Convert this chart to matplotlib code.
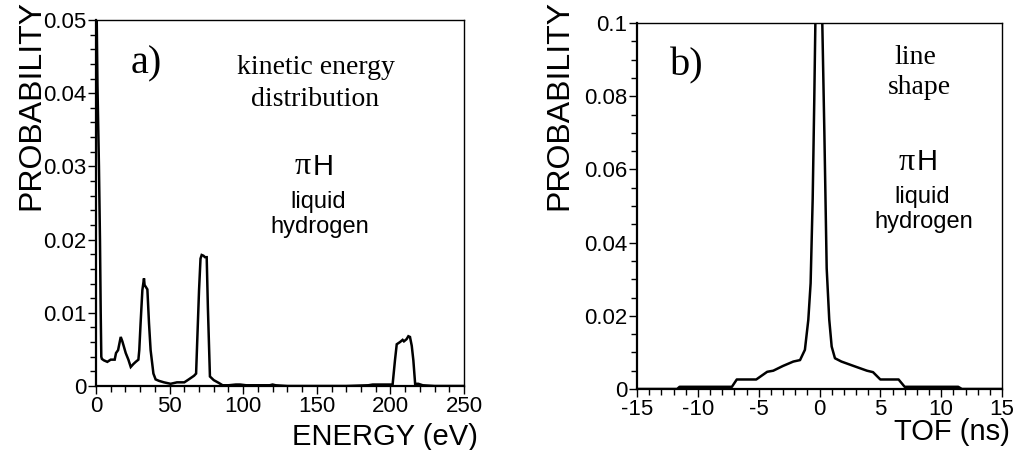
import matplotlib
matplotlib.use("Agg")
import matplotlib.pyplot as plt
from matplotlib.ticker import MultipleLocator

plt.rcParams['font.family'] = ['Liberation Sans', 'DejaVu Sans']

# ---- panel a) kinetic energy distribution ----
energy = [0, 0.5, 1, 2, 2.7, 3.2, 3.6, 4, 5.4, 7.7, 10, 11, 12.7, 13.6, 15, 16.8, 17.9,
          20.2, 22, 23.6, 25.4, 27, 28.8, 29.4, 30.3, 31.5, 32.6, 33, 34.9, 36, 37.1,
          39, 40.5, 42.8, 46.2, 50.7, 55, 60, 63, 66.6, 68, 68.8, 70, 71, 71.8, 73, 74,
          75.2, 76, 77.4, 80, 83.6, 86, 90, 95, 98, 102, 110, 118, 120, 122, 130, 150,
          170, 185, 188, 192.9, 201.5, 203.1, 204.3, 206.5, 208.3, 209.2, 211, 212.2,
          213.3, 214.5, 215.6, 216.8, 219, 222, 230, 250]
prob_e = [0.065, 0.05, 0.041, 0.03, 0.02, 0.01, 0.004, 0.0037, 0.0035, 0.0033, 0.0036,
          0.0036, 0.0036, 0.0045, 0.0049, 0.0067, 0.0061, 0.0045, 0.0036, 0.0026, 0.003,
          0.0033, 0.0036, 0.0049, 0.0086, 0.0131, 0.0147, 0.0138, 0.0132, 0.0086, 0.0049,
          0.0017, 0.0009, 0.0007, 0.0005, 0.0003, 0.0005, 0.0005, 0.0009, 0.0014, 0.0017,
          0.0063, 0.0131, 0.0174, 0.0179, 0.0178, 0.0176, 0.0176, 0.0108, 0.0013, 0.0008,
          0.0004, 0.0001, 0.0001, 0.0002, 0.0002, 0.0001, 0.0001, 0.0001, 0.0002, 0.0001,
          0.0, 0.0, 0.0, 0.0001, 0.0002, 0.0002, 0.0002, 0.0035, 0.0057, 0.006, 0.0063,
          0.0061, 0.0064, 0.0068, 0.0067, 0.0055, 0.0035, 0.0003, 0.0003, 0.0001, 0.0, 0.0]

# ---- panel b) line shape ----
tof = [-15, -11.7, -11.5, -7.2, -6.8, -5.2, -4.3, -3.8, -3.0, -2.15, -1.6, -1.2, -0.92,
       -0.73, -0.56, -0.43, -0.34, -0.32, -0.05, 0.21, 0.23, 0.4, 0.59, 0.8, 1.0, 1.27,
       1.8, 2.8, 3.9, 4.4, 5.0, 6.5, 7.0, 11.4, 11.7, 15]
prob_t = [0.0, 0.0, 0.0006, 0.0006, 0.0026, 0.0026, 0.0047, 0.005, 0.0063, 0.0075, 0.0079,
          0.0107, 0.0189, 0.0289, 0.052, 0.079, 0.1, 0.13, 0.5, 0.13, 0.1, 0.07, 0.033,
          0.019, 0.0116, 0.0084, 0.0075, 0.0063, 0.005, 0.0046, 0.0026, 0.0026, 0.0006,
          0.0006, 0.0, 0.0]

ya_ticks = [0, 0.01, 0.02, 0.03, 0.04, 0.05]
ya_labels = ["0", "0.01", "0.02", "0.03", "0.04", "0.05"]
xa_ticks = [0, 50, 100, 150, 200, 250]
xa_labels = ["0", "50", "100", "150", "200", "250"]
yb_ticks = [0, 0.02, 0.04, 0.06, 0.08, 0.1]
yb_labels = ["0", "0.02", "0.04", "0.06", "0.08", "0.1"]
xb_ticks = [-15, -10, -5, 0, 5, 10, 15]
xb_labels = ["-15", "-10", "-5", "0", "5", "10", "15"]

W, H = 1015, 450
fig = plt.figure(figsize=(W / 100, H / 100), dpi=100)


def px_ax(x0, x1, ytop, ybot):
    return [x0 / W, 1 - ybot / H, (x1 - x0) / W, (ybot - ytop) / H]


axa = fig.add_axes(px_ax(96, 464, 20, 386))
axb = fig.add_axes(px_ax(637, 1002, 23, 389))


def style(ax, xt, xl, yt, yl, xminor, yminor):
    ax.set_xticks(xt)
    ax.set_xticklabels(xl)
    ax.set_yticks(yt)
    ax.set_yticklabels(yl)
    ax.xaxis.set_minor_locator(MultipleLocator(xminor))
    ax.yaxis.set_minor_locator(MultipleLocator(yminor))
    ax.tick_params(which='both', direction='out', labelsize=16, top=False, right=False,
                   width=1.0, colors='black', pad=1)
    ax.tick_params(which='major', length=6)
    ax.tick_params(which='minor', length=4)
    for s in ['left', 'bottom']:
        ax.spines[s].set_linewidth(1.6)
    for s in ['top', 'right']:
        ax.spines[s].set_linewidth(1.0)


axa.plot(energy, prob_e, color='black', lw=1.8, solid_joinstyle='miter')
axa.set_xlim(0, 250)
axa.set_ylim(0, 0.05)
style(axa, xa_ticks, xa_labels, ya_ticks, ya_labels, 10, 0.002)

axb.plot(tof, prob_t, color='black', lw=1.8)
axb.set_xlim(-15, 15)
axb.set_ylim(0, 0.1)
style(axb, xb_ticks, xb_labels, yb_ticks, yb_labels, 1, 0.005)


def ftext(x, y, s, **kw):
    fig.text(x / W, 1 - y / H, s, **kw)


serif = ['Liberation Serif', 'DejaVu Serif']
# panel a annotations
ftext(146, 64, "a)", family=serif, fontsize=29, ha='center', va='center')
ftext(316, 68, "kinetic energy", family=serif, fontsize=20, ha='center', va='center')
ftext(315, 100, "distribution", family=serif, fontsize=20, ha='center', va='center')
ftext(311, 167, "\u03c0", family=serif, fontsize=23, ha='right', va='center')
ftext(313, 167, "H", fontsize=21, ha='left', va='center')
ftext(318, 202, "liquid", fontsize=17, ha='center', va='center')
ftext(320, 227, "hydrogen", fontsize=17, ha='center', va='center')
# panel b annotations
ftext(687, 66, "b)", family=serif, fontsize=29, ha='center', va='center')
ftext(915, 57, "line", family=serif, fontsize=20, ha='center', va='center')
ftext(919, 88, "shape", family=serif, fontsize=20, ha='center', va='center')
ftext(915, 162, "\u03c0", family=serif, fontsize=23, ha='right', va='center')
ftext(917, 162, "H", fontsize=21, ha='left', va='center')
ftext(922, 197, "liquid", fontsize=17, ha='center', va='center')
ftext(924, 222, "hydrogen", fontsize=17, ha='center', va='center')

# axis labels
ftext(31, 0, "PROBABILITY", fontsize=23, rotation=90, ha='center', va='top')
ftext(559, 0, "PROBABILITY", fontsize=23, rotation=90, ha='center', va='top')
ftext(478, 437, "ENERGY (eV)", fontsize=21, ha='right', va='center')
ftext(1010, 432, "TOF (ns)", fontsize=21, ha='right', va='center')

fig.savefig("out.png", dpi=100)
